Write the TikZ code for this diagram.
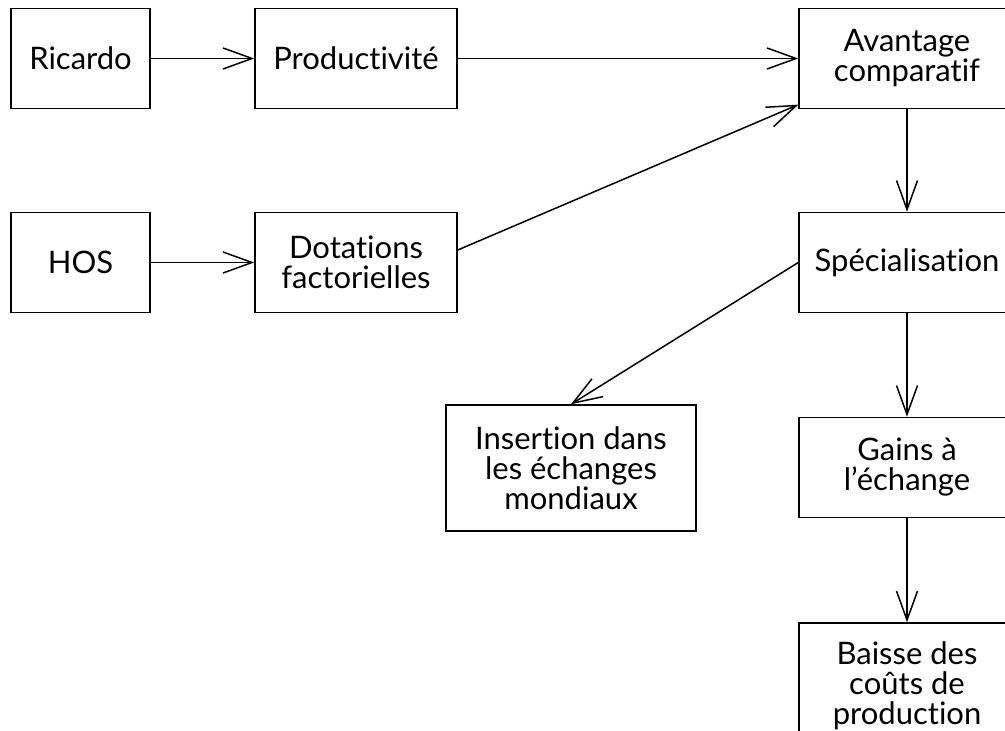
\documentclass[tikz,border=0pt]{standalone}
\usepackage{fontspec}
\setmainfont[Ligatures=NoCommon]{Lato}
\usetikzlibrary{arrows.meta}

\tikzset{
  box/.style={draw, line width=0.75pt, align=center, inner sep=0pt,
    minimum width=#1, minimum height=50pt,
    font=\fontsize{15.5}{15}\selectfont},
  box/.default=101pt,
  link/.style={line width=0.75pt, -{Straight Barb[length=14.5pt,width=10.5pt,line width=0.75pt]}}
}

\begin{document}
\begin{tikzpicture}[x=0.5pt,y=-0.5pt]
    \useasboundingbox (0,0) rectangle (1005,731);
    \clip (0,0) rectangle (1005,731);

    \node [box=69.5pt] (ricardo) at (80.5,58.5) {Ricardo};
    \node [box] (prod) at (356,58.5) {Productivité};
    \node [box=108pt] (avant) at (907,58.5) {Avantage\\comparatif};

    \node [box=69.5pt] (hos) at (80.5,262.5) {HOS};
    \node [box] (dot) at (356,262.5) {Dotations\\factorielles};
    \node [box=108pt] (spe) at (907,262.5) {Spécialisation};

    \node [box=125pt, minimum height=63pt] (ins) at (571,468) {Insertion dans\\les échanges\\mondiaux};
    \node [box=108pt] (gains) at (907,467.5) {Gains à\\l'échange};
    \node [box=108pt, minimum height=63pt] (baisse) at (907,686) {Baisse des\\coûts de\\production};

    \draw [link] (ricardo) -- (prod);
    \draw [link] (prod) -- (avant);
    \draw [link] (hos) -- (dot);
    \draw [link] (dot.7) -- (avant.203);
    \draw [link] (avant) -- (spe);
    \draw [link] (spe.west) -- (ins.north);
    \draw [link] (spe) -- (gains);
    \draw [link] (gains) -- (baisse);
  \end{tikzpicture}
\end{document}
